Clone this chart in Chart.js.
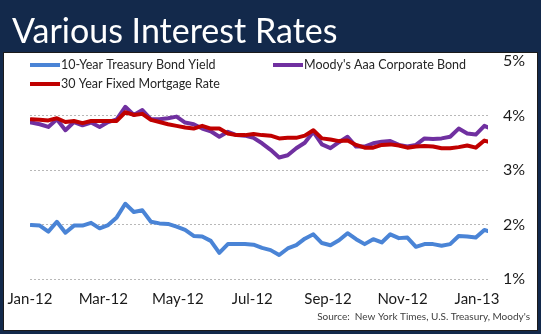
<!DOCTYPE html>
<html>
<head>
<meta charset="utf-8">
<title>Various Interest Rates</title>
<script src="https://cdn.jsdelivr.net/npm/chart.js@4.4.1/dist/chart.umd.min.js"></script>
<style>
  html, body { margin: 0; padding: 0; background: #13294b; }
  #wrap { width: 541px; height: 334px; position: relative; }
</style>
</head>
<body>
<div id="wrap"><canvas id="rates"></canvas></div>
<script>
// weekly observations (Mondays), plus the last print of the series
const dates = [
  '2012-01-02','2012-01-09','2012-01-16','2012-01-23','2012-01-30',
  '2012-02-06','2012-02-13','2012-02-20','2012-02-27',
  '2012-03-05','2012-03-12','2012-03-19','2012-03-26',
  '2012-04-02','2012-04-09','2012-04-16','2012-04-23','2012-04-30',
  '2012-05-07','2012-05-14','2012-05-21','2012-05-28',
  '2012-06-04','2012-06-11','2012-06-18','2012-06-25',
  '2012-07-02','2012-07-09','2012-07-16','2012-07-23','2012-07-30',
  '2012-08-06','2012-08-13','2012-08-20','2012-08-27',
  '2012-09-03','2012-09-10','2012-09-17','2012-09-24',
  '2012-10-01','2012-10-08','2012-10-15','2012-10-22','2012-10-29',
  '2012-11-05','2012-11-12','2012-11-19','2012-11-26',
  '2012-12-03','2012-12-10','2012-12-17','2012-12-24','2012-12-31',
  '2013-01-07','2013-01-10'
];

const treasury10y = [
  1.99, 1.98, 1.87, 2.05, 1.85, 1.98, 1.98, 2.03, 1.93, 1.99,
  2.13, 2.38, 2.23, 2.26, 2.05, 2.02, 2.01, 1.96, 1.90, 1.79,
  1.78, 1.70, 1.48, 1.64, 1.64, 1.64, 1.63, 1.57, 1.53, 1.44,
  1.56, 1.62, 1.74, 1.82, 1.66, 1.62, 1.71, 1.84, 1.73, 1.64,
  1.73, 1.67, 1.82, 1.75, 1.76, 1.59, 1.64, 1.64, 1.61, 1.64,
  1.79, 1.78, 1.76, 1.90, 1.88
];

const moodysAaa = [
  3.87, 3.84, 3.79, 3.93, 3.73, 3.88, 3.82, 3.87, 3.79, 3.88,
  3.93, 4.16, 4.01, 4.10, 3.93, 3.93, 3.95, 3.98, 3.87, 3.84,
  3.76, 3.71, 3.61, 3.70, 3.64, 3.63, 3.59, 3.49, 3.37, 3.23,
  3.27, 3.40, 3.50, 3.70, 3.47, 3.40, 3.51, 3.61, 3.43, 3.43,
  3.49, 3.52, 3.53, 3.46, 3.43, 3.46, 3.58, 3.57, 3.58, 3.61,
  3.76, 3.67, 3.65, 3.81, 3.78
];

const mortgage30y = [
  3.93, 3.92, 3.91, 3.95, 3.88, 3.90, 3.86, 3.90, 3.90, 3.90,
  3.90, 4.06, 4.01, 4.03, 3.92, 3.88, 3.84, 3.81, 3.78, 3.76,
  3.81, 3.76, 3.76, 3.67, 3.64, 3.64, 3.66, 3.64, 3.63, 3.58,
  3.59, 3.59, 3.63, 3.73, 3.58, 3.56, 3.53, 3.54, 3.46, 3.41,
  3.41, 3.46, 3.47, 3.45, 3.41, 3.43, 3.44, 3.43, 3.40, 3.40,
  3.42, 3.45, 3.41, 3.54, 3.52
];

const tickDates  = ['2012-01-01','2012-03-01','2012-05-01','2012-07-01','2012-09-01','2012-11-01','2013-01-01'];
const tickLabels = ['Jan-12','Mar-12','May-12','Jul-12','Sep-12','Nov-12','Jan-13'];
const yTicks = [1, 2, 3, 4, 5];

const NAVY = '#13294b';
const FONT = 'Lato, Calibri, sans-serif';

// days since 1 Jan 2012, used as the x value
const origin = Date.UTC(2012, 0, 1);
function dayNo(iso) {
  const [y, m, d] = iso.split('-').map(Number);
  return (Date.UTC(y, m - 1, d) - origin) / 864e5;
}
const xDays = dates.map(dayNo);
const tickDays = tickDates.map(dayNo);

const toPoints = vals => vals.map((v, i) => ({ x: xDays[i], y: v }));

// where each legend entry sits (Excel-style two-column legend)
const legendSlots = [
  { x: 30,  y: 65 },
  { x: 273, y: 65 },
  { x: 30,  y: 84 }
];

const framePlugin = {
  id: 'frame',
  beforeDraw(chart) {
    const { ctx, width, height } = chart;
    ctx.save();
    ctx.fillStyle = NAVY;
    ctx.fillRect(0, 0, width, height);
    ctx.fillStyle = '#ffffff';
    ctx.fillRect(3.5, 52.5, 534, 278);
    ctx.strokeStyle = '#1b1b1b';
    ctx.lineWidth = 1;
    ctx.strokeRect(3.5, 52.5, 534, 278);

    ctx.fillStyle = '#ffffff';
    ctx.font = '34px ' + FONT;
    ctx.textBaseline = 'alphabetic';
    ctx.textAlign = 'left';
    ctx.fillText('Various Interest Rates', 12, 43);
    ctx.restore();
  },
  afterDraw(chart) {
    const { ctx } = chart;
    ctx.save();
    ctx.font = '12.5px ' + FONT;
    ctx.textBaseline = 'middle';
    ctx.textAlign = 'left';
    chart.data.datasets.forEach((ds, i) => {
      const slot = legendSlots[i];
      ctx.strokeStyle = ds.borderColor;
      ctx.lineWidth = 4;
      ctx.lineCap = 'butt';
      ctx.beginPath();
      ctx.moveTo(slot.x, slot.y);
      ctx.lineTo(slot.x + 30, slot.y);
      ctx.stroke();
      ctx.fillStyle = '#262626';
      ctx.fillText(ds.label, slot.x + 31, slot.y);
    });

    ctx.font = '10px ' + FONT;
    ctx.fillStyle = '#404040';
    ctx.textAlign = 'right';
    ctx.fillText("Source:  New York Times, U.S. Treasury, Moody's", 530, 317);
    ctx.restore();
  }
};

const lineStyle = {
  pointRadius: 0,
  borderWidth: 4,
  tension: 0,
  borderJoinStyle: 'round',
  borderCapStyle: 'round',
  fill: false
};

new Chart(document.getElementById('rates'), {
  type: 'line',
  data: {
    datasets: [
      { ...lineStyle, label: '10-Year Treasury Bond Yield', data: toPoints(treasury10y), borderColor: '#4a84d6', order: 2 },
      { ...lineStyle, label: "Moody's Aaa Corporate Bond", data: toPoints(moodysAaa), borderColor: '#7030a0', order: 1 },
      { ...lineStyle, label: '30 Year Fixed Mortgage Rate', data: toPoints(mortgage30y), borderColor: '#c00000', order: 0 }
    ]
  },
  options: {
    responsive: true,
    maintainAspectRatio: false,
    animation: false,
    layout: { padding: { top: 61, left: 30, right: 0, bottom: 0 } },
    plugins: {
      legend: { display: false },
      tooltip: { enabled: false },
      title: { display: false }
    },
    scales: {
      x: {
        type: 'linear',
        min: 0,
        max: 375,
        grid: { display: false },
        border: { display: false },
        afterBuildTicks: axis => { axis.ticks = tickDays.map(v => ({ value: v })); },
        afterFit: axis => { axis.height = 55; },
        ticks: {
          autoSkip: false,
          maxRotation: 0,
          padding: 3,
          color: '#1a1a1a',
          font: { family: FONT, size: 15 },
          callback: v => tickLabels[tickDays.indexOf(v)]
        }
      },
      y: {
        position: 'right',
        min: 1,
        max: 5,
        afterBuildTicks: axis => { axis.ticks = yTicks.map(v => ({ value: v })); },
        afterFit: axis => { axis.width = 53; },
        grid: {
          drawTicks: false,
          lineWidth: 1,
          color: c => (c.tick && c.tick.value === 5) ? 'rgba(0,0,0,0)' : '#b8b8b8'
        },
        border: { display: false, dash: [2, 2] },
        ticks: {
          padding: 15,
          color: '#1a1a1a',
          font: { family: FONT, size: 16 },
          callback: v => v + '%'
        }
      }
    }
  },
  plugins: [framePlugin]
});
</script>
</body>
</html>
